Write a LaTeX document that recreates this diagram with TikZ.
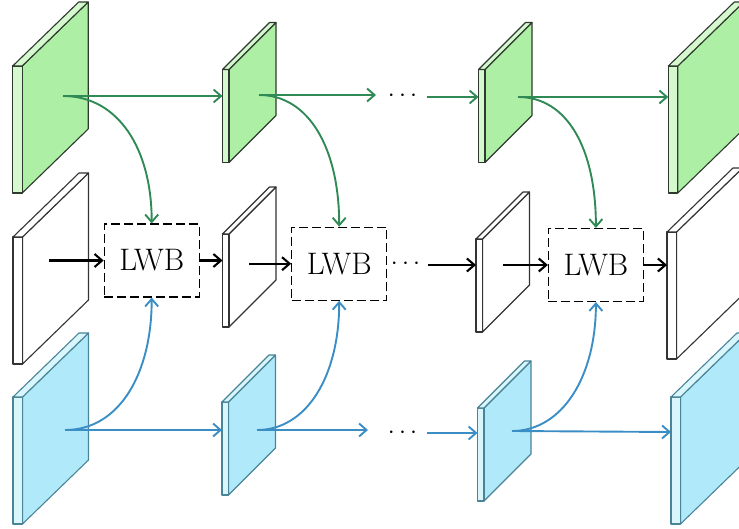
\documentclass[tikz,border=0pt]{standalone}
\usepackage{graphicx}
\usetikzlibrary{arrows.meta}

\definecolor{gFace}{HTML}{ADF0A5}
\definecolor{gSide}{HTML}{D6F8CF}
\definecolor{gEdge}{HTML}{2E3A2E}
\definecolor{gLine}{HTML}{2F8A55}
\definecolor{bFace}{HTML}{B0E9F9}
\definecolor{bSide}{HTML}{DAF6FD}
\definecolor{bEdge}{HTML}{4A8497}
\definecolor{bLine}{HTML}{3A8DC5}
\definecolor{wEdge}{HTML}{333333}

% feature map: palette, x, y (top of front strip), strip width, height, depth dx, depth dy
\newcommand\fmap[7]{%
  \path[#1face] (#2+#4,#3) -- ++(#6,-#7) -- ++(0,#5) -- ++(-#6,#7) -- cycle;
  \path[#1side] (#2,#3) rectangle ++(#4,#5);
  \path[#1side] (#2,#3) -- ++(#6,-#7) -- ++(#4,0) -- ++(-#6,#7) -- cycle;}
\newcommand\bigmap[3]{\fmap{#1}{#2}{#3}{9.5}{127}{66}{64}}
\newcommand\smallmap[3]{\fmap{#1}{#2}{#3}{6.5}{93}{47}{47}}
% block label, set larger than \Huge
\newcommand\blocklabel[1]{\scalebox{1.25}{\Huge #1}}

\begin{document}
\begin{tikzpicture}[x=1pt,y=-1pt,
  mapedge/.style={line width=1.1pt,line join=round},
  gface/.style={mapedge,fill=gFace,draw=gEdge},
  gside/.style={mapedge,fill=gSide,draw=gEdge},
  wface/.style={mapedge,fill=white,draw=wEdge},
  wside/.style={mapedge,fill=white,draw=wEdge},
  bface/.style={mapedge,fill=bFace,draw=bEdge},
  bside/.style={mapedge,fill=bSide,draw=bEdge},
  lwb/.style={draw=black,line width=1.1pt,dash pattern=on 9pt off 4pt,
    minimum width=95pt,minimum height=73pt,inner sep=0pt},
  dots/.style={inner sep=0pt,anchor=base,font=\fontsize{28}{28}\selectfont},
  flow/.style={line width=1.9pt,-{Straight Barb[length=7.5pt,width=13pt]}},
  gflow/.style={flow,draw=gLine},
  kflow/.style={flow,draw=black,line width=2.1pt},
  bflow/.style={flow,draw=bLine}]
\useasboundingbox (0,0) rectangle (739,529);
\clip (0,0) rectangle (739,529);

% feature maps, top row
\bigmap{g}{12.7}{66}
\smallmap{g}{222.5}{69.5}
\smallmap{g}{478.5}{69.5}
\bigmap{g}{668.3}{66}
% feature maps, middle row
\bigmap{w}{13}{237}
\smallmap{w}{222.5}{234}
\smallmap{w}{476}{239}
\bigmap{w}{667}{232}
% feature maps, bottom row
\bigmap{b}{13}{397}
\smallmap{b}{222}{402}
\smallmap{b}{477.5}{408}
\bigmap{b}{671}{397}

% fusion blocks
\node[lwb] (lwb1) at (151.7,260.5) {\blocklabel{LWB}};
\node[lwb] (lwb2) at (339.2,263.7) {\blocklabel{LWB}};
\node[lwb] (lwb3) at (595.9,265) {\blocklabel{LWB}};

% anchor points on the maps
\coordinate (g1) at (63,96);
\coordinate (g2in) at (222.5,96);
\coordinate (g2) at (259,95);
\coordinate (g2out) at (376,95);
\coordinate (g3pre) at (427,97);
\coordinate (g3in) at (478.5,97);
\coordinate (g3) at (518,97);
\coordinate (g4in) at (668.3,97);

\coordinate (w1) at (49,260.5);
\coordinate (w2in) at (222.5,260.5);
\coordinate (w2) at (249,263.7);
\coordinate (w3pre) at (428,265);
\coordinate (w3in) at (476,265);
\coordinate (w3) at (503,265);
\coordinate (w4in) at (667,265);

\coordinate (b1) at (65,430);
\coordinate (b2in) at (222,430);
\coordinate (b2) at (257,430);
\coordinate (b2out) at (368,430);
\coordinate (b3pre) at (427,433);
\coordinate (b3in) at (477.5,433);
\coordinate (b3) at (512,431);
\coordinate (b4in) at (671,432);

% ellipses between stages
\node[dots] (gdots) at (402.5,102) {$\cdots$};
\node[dots] (wdots) at (405.5,270) {$\cdots$};
\node[dots] (bdots) at (402.5,438) {$\cdots$};

% top stream
\draw[gflow] (g1) -- (g2in);
\draw[gflow] (g2) -- (g2out);
\draw[gflow] (g3pre) -- (g3in);
\draw[gflow] (g3) -- (g4in);
\draw[gflow] (g1) .. controls +(55,0) and +(0,-75) .. (lwb1.north);
\draw[gflow] (g2) .. controls +(50,0) and +(0,-78) .. (lwb2.north);
\draw[gflow] (g3) .. controls +(50,0) and +(0,-78) .. (lwb3.north);

% middle stream
\draw[kflow] (w1) -- (lwb1.west);
\draw[kflow] (lwb1.east) -- (w2in);
\draw[kflow] (w2) -- (lwb2.west);
\draw[kflow] (w3pre) -- (w3in);
\draw[kflow] (w3) -- (lwb3.west);
\draw[kflow] (lwb3.east) -- (w4in);

% bottom stream
\draw[bflow] (b1) -- (b2in);
\draw[bflow] (b2) -- (b2out);
\draw[bflow] (b3pre) -- (b3in);
\draw[bflow] (b3) -- (b4in);
\draw[bflow] (b1) .. controls +(55,0) and +(0,75) .. (lwb1.south);
\draw[bflow] (b2) .. controls +(50,0) and +(0,75) .. (lwb2.south);
\draw[bflow] (b3) .. controls +(50,0) and +(0,75) .. (lwb3.south);
\end{tikzpicture}
\end{document}
